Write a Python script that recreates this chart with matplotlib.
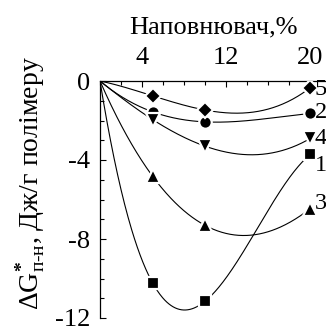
import numpy as np
import matplotlib
matplotlib.use("Agg")
import matplotlib.pyplot as plt
from matplotlib.ticker import FixedLocator, MultipleLocator

plt.rcParams["font.family"] = ["Liberation Serif", "DejaVu Serif"]
plt.rcParams["mathtext.fontset"] = "custom"
plt.rcParams["mathtext.rm"] = "Liberation Serif"
plt.rcParams["mathtext.it"] = "Liberation Serif:italic"
plt.rcParams["mathtext.bf"] = "Liberation Serif:bold"

# Filler content, %
filler = [0, 5, 10, 20]

# Free energy of polymer-filler interaction, J/g of polymer
series_labels = ["1", "2", "3", "4", "5"]
series_values = {
    "1": [0, -10.22, -11.15, -3.72],
    "2": [0, -1.56, -2.07, -1.64],
    "3": [0, -4.82, -7.31, -6.46],
    "4": [0, -1.95, -3.30, -2.91],
    "5": [0, -0.75, -1.47, -0.34],
}
series_markers = {"1": "s", "2": "o", "3": "^", "4": "v", "5": "D"}
marker_sizes = {"1": 8.5, "2": 9.0, "3": 9.5, "4": 9.5, "5": 8.0}
label_y = {"1": -4.3, "2": -1.6, "3": -6.2, "4": -2.9, "5": -0.45}

x_ticks = [4, 12, 20]
y_ticks = [0, -4, -8, -12]

W, H = 326, 326
fig = plt.figure(figsize=(W / 100, H / 100), dpi=100)
ax = fig.add_axes([100 / W, 1 - 318 / H, 226 / W, 237 / H])

xs = np.linspace(0, 20, 300)
for key in series_labels:
    ys = np.array(series_values[key])
    coef = np.polyfit(filler, ys, 3)
    ax.plot(xs, np.polyval(coef, xs), color="black", lw=0.8, zorder=2)
    ax.plot(filler[1:], ys[1:], linestyle="none", marker=series_markers[key],
            markersize=marker_sizes[key], markerfacecolor="black",
            markeredgecolor="white", markeredgewidth=1.6, zorder=3)
    ax.text(20.4, label_y[key], key, ha="left", va="center", fontsize=17.5,
            zorder=4, clip_on=False)

ax.set_xlim(0, 21.5)
ax.set_ylim(-12, 0)

ax.xaxis.tick_top()
ax.xaxis.set_major_locator(FixedLocator(x_ticks))
ax.xaxis.set_minor_locator(MultipleLocator(2))
ax.yaxis.set_major_locator(FixedLocator(y_ticks))
ax.yaxis.set_minor_locator(MultipleLocator(1))
ax.set_xticklabels([str(v) for v in x_ticks])
ax.set_yticklabels([str(v) for v in y_ticks])
ax.tick_params(axis="both", which="both", direction="in", width=0.8)
ax.tick_params(axis="both", which="major", length=4, labelsize=19)
ax.tick_params(axis="both", which="minor", length=3)
ax.tick_params(axis="x", which="major", pad=9)
ax.tick_params(axis="y", which="major", pad=7)

for side in ("right", "bottom"):
    ax.spines[side].set_visible(False)
for side in ("top", "left"):
    ax.spines[side].set_linewidth(0.9)

fig.text(213 / W, 1 - 33 / H, "Наповнювач,%", ha="center", va="baseline",
         fontsize=19)
fig.text(31 / W, 1 - 183 / H,
         r"$\mathrm{\Delta G}^{\mathbf{*}}_{\mathrm{п‐н}}$, Дж/г полімеру",
         rotation=90, ha="center", va="center", fontsize=20)

fig.savefig("out.png", dpi=100)
